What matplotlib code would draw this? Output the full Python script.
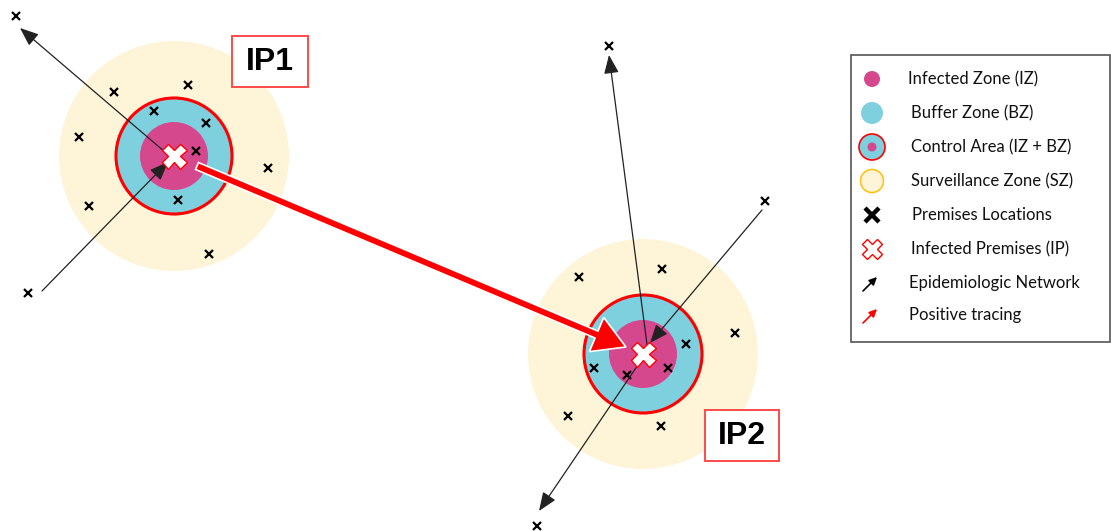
import matplotlib
matplotlib.use("Agg")
import matplotlib.pyplot as plt
from matplotlib.patches import Circle, Rectangle, FancyArrowPatch

# ---------------- data (pixel space of the diagram) ----------------
ip_names = ["IP1", "IP2"]
ip_centers = [(174, 156), (643, 354)]
sz_radius = [115, 115]
bz_radius = [58, 59]
iz_radius = [34, 34]
label_boxes = [(232, 36, 76, 51), (705, 410, 74, 51)]

premises_x = [16, 114, 188, 79, 154, 206, 196, 268, 89, 178, 209, 28,
              609, 765, 579, 662, 735, 686, 594, 627, 668, 568, 661, 537]
premises_y = [16, 92, 85, 137, 111, 123, 151, 168, 206, 200, 254, 293,
              46, 201, 277, 269, 333, 344, 368, 375, 368, 416, 426, 526]

# epidemiologic network edges (start -> end)
net_start = [(172, 158), (42, 291), (648, 352), (762, 210), (644, 356)]
net_end = [(20, 28), (168, 162), (609, 55), (650, 343), (539, 511)]

trace_start = (197, 166)
trace_end = (626, 347)

legend_labels = ["Infected Zone (IZ)", "Buffer Zone (BZ)", "Control Area (IZ + BZ)",
                 "Surveillance Zone (SZ)", "Premises Locations", "Infected Premises (IP)",
                 "Epidemiologic Network", "Positive tracing"]
legend_y = [79, 113, 147, 181, 215, 249, 283, 315]
legend_text_x = [908, 911, 911, 911, 912, 911, 909, 909]

# ---------------- colours ----------------
C_SZ = "#FEF4D8"
C_SZ_EDGE = "#FFC21A"
C_BZ = "#7FD0DF"
C_IZ = "#D5488E"
C_RED = "#FF0000"

fig = plt.figure(figsize=(11.11, 5.31), dpi=100)
ax = fig.add_axes([0, 0, 1, 1])
ax.set_xlim(0, 1111)
ax.set_ylim(531, 0)
ax.set_aspect("equal")
ax.axis("off")

# zones
for (cx, cy), rs, rb, ri in zip(ip_centers, sz_radius, bz_radius, iz_radius):
    ax.add_patch(Circle((cx, cy), rs, fc=C_SZ, ec="none", zorder=1))
    ax.add_patch(Circle((cx, cy), rb, fc=C_BZ, ec=C_RED, lw=2.2, zorder=2))
    ax.add_patch(Circle((cx, cy), ri, fc=C_IZ, ec="none", zorder=3))

# premises
ax.plot(premises_x, premises_y, ls="none", marker="x", ms=6, mew=1.6,
        color="black", zorder=4)

# network arrows
for s, e in zip(net_start, net_end):
    ax.add_patch(FancyArrowPatch(s, e, arrowstyle="-|>,head_length=0.95,head_width=0.38",
                                 mutation_scale=12, lw=0.9, color="#222222",
                                 shrinkA=0, shrinkB=0, zorder=5))

# positive tracing arrow
dx = trace_end[0] - trace_start[0]
dy = trace_end[1] - trace_start[1]
ax.arrow(trace_start[0], trace_start[1], dx, dy, width=7.5, head_width=37,
         head_length=32, length_includes_head=True, fc=C_RED, ec="white",
         lw=1.2, zorder=6)

# infected premises markers
ax.plot([c[0] for c in ip_centers], [c[1] for c in ip_centers], ls="none",
        marker="X", ms=18, mfc="white", mec=C_RED, mew=1.0, zorder=7)

# IP labels
for name, (bx, by, bw, bh) in zip(ip_names, label_boxes):
    ax.add_patch(Rectangle((bx, by), bw, bh, fc="white", ec="#FF4A4A", lw=1.4, zorder=8))
    ax.text(bx + bw / 2, by + bh / 2 + 1, name, ha="center", va="center",
            fontsize=23, fontweight="bold", family="Liberation Sans", zorder=9)

# legend box
ax.add_patch(Rectangle((851, 55), 259, 287, fc="white", ec="#555555", lw=1.2, zorder=8))
ix = 872
ax.add_patch(Circle((ix, legend_y[0]), 8, fc=C_IZ, ec="none", zorder=9))
ax.add_patch(Circle((ix, legend_y[1]), 11, fc=C_BZ, ec="none", zorder=9))
ax.add_patch(Circle((ix, legend_y[2]), 13, fc=C_BZ, ec=C_RED, lw=1.2, zorder=9))
ax.add_patch(Circle((ix, legend_y[2]), 4.5, fc=C_IZ, ec="none", zorder=10))
ax.add_patch(Circle((ix, legend_y[3]), 11.5, fc=C_SZ, ec=C_SZ_EDGE, lw=1.2, zorder=9))
ax.plot([ix], [legend_y[4]], marker="x", ms=10, mew=3.2, color="black", zorder=9)
ax.plot([ix], [legend_y[5]], marker="X", ms=15, mfc="white", mec=C_RED, mew=1.0, zorder=9)
for y, col in ((legend_y[6], "black"), (legend_y[7], C_RED)):
    ax.add_patch(FancyArrowPatch((863, y + 8), (877, y - 6),
                                 arrowstyle="-|>,head_length=0.45,head_width=0.22",
                                 mutation_scale=10, lw=1.2, color=col,
                                 shrinkA=0, shrinkB=0, zorder=9))
for lab, y, x in zip(legend_labels, legend_y, legend_text_x):
    ax.text(x, y, lab, ha="left", va="center", fontsize=12, family="Lato",
            color="#111111", zorder=9)

fig.savefig("out.png", dpi=100)
